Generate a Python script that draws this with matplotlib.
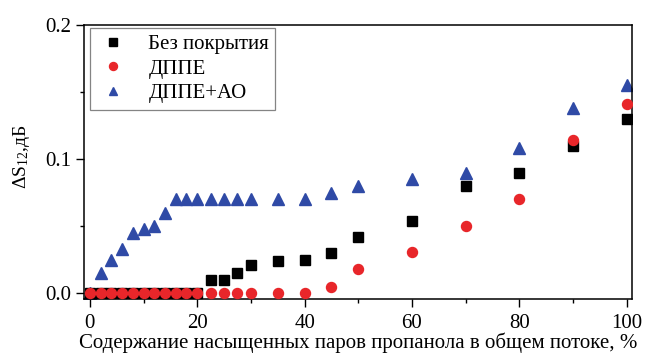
import matplotlib
matplotlib.use("Agg")
import matplotlib.pyplot as plt
from matplotlib.ticker import MultipleLocator, FormatStrFormatter

plt.rcParams['font.family'] = ['Liberation Serif', 'DejaVu Serif']
plt.rcParams['mathtext.fontset'] = 'custom'
plt.rcParams['mathtext.rm'] = 'Liberation Serif'
plt.rcParams['mathtext.it'] = 'Liberation Serif:italic'

# Propanol vapour content in the total flow, %
x = [0, 2, 4, 6, 8, 10, 12, 14, 16, 18, 20, 22.5, 25, 27.5, 30, 35,
     40, 45, 50, 60, 70, 80, 90, 100]

# Change of S12, dB
bare = [0, 0, 0, 0, 0, 0, 0, 0, 0, 0, 0, 0.010, 0.010, 0.015, 0.021, 0.024,
        0.025, 0.030, 0.042, 0.054, 0.080, 0.090, 0.110, 0.130]
dppe = [0, 0, 0, 0, 0, 0, 0, 0, 0, 0, 0, 0, 0, 0, 0, 0,
        0, 0.005, 0.018, 0.031, 0.050, 0.070, 0.114, 0.141]
dppe_ao = [0, 0.015, 0.025, 0.033, 0.045, 0.048, 0.050, 0.060, 0.070, 0.070,
           0.070, 0.070, 0.070, 0.070, 0.070, 0.070,
           0.070, 0.075, 0.080, 0.085, 0.090, 0.108, 0.138, 0.155]

labels = ['Без покрытия', 'ДППЕ', 'ДППЕ+АО']

fig = plt.figure(figsize=(6.45, 3.55), dpi=100)
ax = fig.add_axes([0.1302, 0.1577, 0.8496, 0.7719])

ax.plot(x, bare, 's', color='black', markersize=6.5, label=labels[0], zorder=3)
ax.plot(x, dppe, 'o', color='#e8262a', markersize=7.2, label=labels[1], zorder=4)
ax.plot(x, dppe_ao, '^', color='#2f4aa6', markersize=8.0, label=labels[2], zorder=2)

ax.set_xlim(-1.1, 101)
ax.set_ylim(-0.0042, 0.2)

ax.xaxis.set_major_locator(MultipleLocator(20))
ax.xaxis.set_minor_locator(MultipleLocator(10))
ax.yaxis.set_major_locator(MultipleLocator(0.1))
ax.yaxis.set_minor_locator(MultipleLocator(0.05))
ax.yaxis.set_major_formatter(FormatStrFormatter('%.1f'))

ax.tick_params(which='major', direction='out', length=5.5, width=1.0,
               labelsize=15)
ax.tick_params(axis='x', which='major', pad=5)
ax.tick_params(axis='y', which='major', pad=4)
ax.tick_params(which='minor', direction='out', length=3, width=1.0)
ax.tick_params(top=False, right=False)
for s in ax.spines.values():
    s.set_linewidth(1.1)

ax.set_xlabel('Содержание насыщенных паров пропанола в общем потоке, %',
              fontsize=15, labelpad=0)
ax.set_ylabel('ΔS$_{12}$,дБ', fontsize=14)
ax.yaxis.set_label_coords(-0.095, 0.52)

leg = ax.legend(loc='upper left', bbox_to_anchor=(0.011, 0.989),
                borderaxespad=0, fontsize=15, frameon=True, fancybox=False,
                edgecolor='#666666', handlelength=1.6, handletextpad=0.9,
                labelspacing=0.25, borderpad=0.3, markerscale=0.8)
leg.get_frame().set_linewidth(0.9)

fig.savefig('out.png', dpi=100)
